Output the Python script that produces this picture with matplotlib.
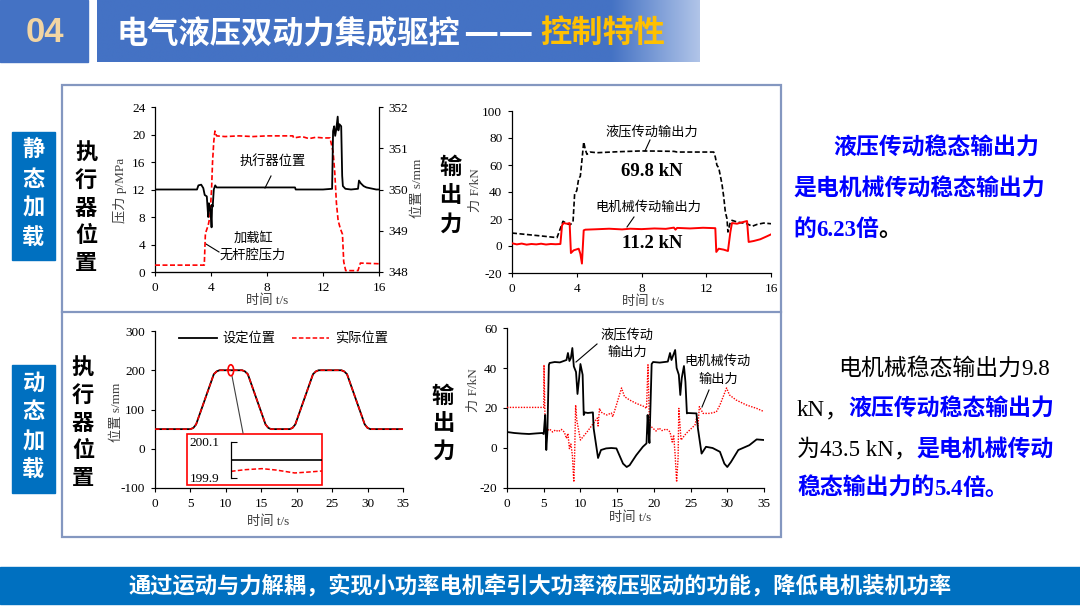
import matplotlib
matplotlib.use('Agg')
import matplotlib.pyplot as plt
import numpy as np
from matplotlib.patches import Rectangle, Ellipse

# ---------------- data ----------------
# static load, actuator position (right axis, mm) and cylinder pressure (left axis, MPa)
TL_T_POS = [0, 1.0, 2.0, 3.0, 3.1, 3.3, 3.45, 3.55, 3.7, 3.8, 3.85, 3.92, 4.0, 4.04, 4.08, 4.12,
            4.2, 4.3, 4.4, 5, 6, 7, 8, 9, 10.0, 10.05, 11, 12, 12.65, 12.72, 12.8, 12.87, 12.95,
            13.05, 13.1, 13.17, 13.3, 13.37, 13.42, 13.6, 14, 14.5, 14.57, 14.7, 14.9, 15.1, 15.8, 16]
TL_POS = [350.0, 350.0, 350.0, 350.0, 350.1, 350.117, 350.033, 349.867, 349.833, 349.333,
          349.667, 349.583, 349.333, 349.083, 349.633, 349.583, 350.0, 350.1, 350.05, 350.05,
          350.05, 350.05, 350.05, 350.05, 350.05, 350.0, 350.0, 350.0, 350.017, 351.417,
          351.533, 351.3, 351.467, 351.767, 351.433, 351.583, 351.533, 350.333, 350.083, 350.017,
          350.0, 350.017, 350.217, 350.15, 350.083, 350.05, 350.0, 350.0]
TL_T_P = [0, 3.52, 3.6, 3.7, 3.8, 3.92, 4.04, 4.11, 4.2, 4.28, 4.4, 5, 6, 7, 8, 9, 9.85, 9.9,
          10.5, 11, 11.5, 12, 12.5, 12.72, 12.84, 12.96, 13.08, 13.24, 13.39, 13.48, 13.62,
          14.5, 14.67, 16]
TL_P = [1.0, 1.0, 5.6, 6.2, 6.8, 8.0, 12.0, 16.0, 19.0, 20.5, 19.8, 19.7, 19.8, 19.7, 19.8,
        19.8, 19.8, 19.5, 19.7, 19.4, 19.6, 19.5, 19.5, 17.5, 14.5, 10.0, 7.5, 6.3, 5.5, 1.5,
        0.2, 0.2, 1.3, 1.2]

# static load, output forces (kN)
TR_T_H = [0, 1, 2, 2.78, 3.15, 3.4, 3.6, 3.77, 3.87, 4.0, 4.12, 4.22, 4.32, 4.43, 4.53, 4.63,
          4.84, 5.25, 6.5, 7.93, 9, 10.0, 10.2, 11.5, 12.46, 12.56, 12.66, 12.77, 12.97, 13.08,
          13.18, 13.28, 13.34, 13.49, 13.59, 13.9, 14.52, 14.83, 15.14, 15.55, 16]
TR_H = [9.6, 8.4, 7.2, 6.2, 18.3, 16.5, 15.8, 17.8, 38.8, 41.0, 50.0, 51.6, 63.5, 77.0, 71.4,
        67.9, 69.6, 69.1, 69.8, 70.4, 70.3, 70.1, 69.6, 69.6, 69.6, 65.9, 59.8, 58.0, 46.0,
        36.3, 25.2, 20.2, 10.4, 17.8, 19.0, 17.8, 16.5, 14.6, 16.0, 17.0, 16.5]
TR_T_M = [0, 0.3, 0.6, 0.9, 1.2, 1.5, 1.8, 2.1, 2.4, 2.7, 2.99, 3.09, 3.19, 3.4, 3.56, 3.64,
          3.81, 4.12, 4.22, 4.32, 4.43, 4.53, 5.2, 6.0, 6.8, 7.3, 8.0, 8.8, 9.5, 10.0, 10.1,
          10.2, 11.0, 11.8, 12.56, 12.62, 12.77, 13.08, 13.34, 13.49, 13.59, 13.9, 14.2, 14.52,
          14.62, 14.93, 15.34, 15.75, 16]
TR_M = [2.0, 1.2, 1.8, 1.0, 1.5, 1.2, 1.7, 1.1, 1.5, 1.3, 1.5, 15.3, 17.0, 16.5, 17.0, -5.2,
        -3.2, -2.0, -5.7, -13.0, 11.6, 12.1, 12.4, 12.8, 12.3, 12.8, 12.5, 13.0, 12.7, 13.6,
        12.1, 13.4, 13.0, 13.5, 13.2, -4.4, -2.0, -2.7, -3.7, 10.4, 17.0, 16.5, 17.5, 18.5,
        3.0, 3.7, 5.0, 7.2, 8.6]

# dynamic load, actuator position (mm)
BL_T = [0, 5.0, 5.4, 5.8, 8.3, 8.7, 9.1, 12.3, 12.7, 13.1, 15.6, 16.0, 16.4, 19.0, 19.4, 19.8,
        22.3, 22.7, 23.1, 26.3, 26.7, 27.1, 29.6, 30.0, 30.4, 35]
BL_SET = [50, 50, 53, 62, 190, 197, 200, 200, 197, 190, 62, 53, 50, 50, 53, 62, 190, 197, 200,
          200, 197, 190, 62, 53, 50, 50]
BL_ACT = [50, 50, 53, 62, 190, 197, 200, 200, 197, 190, 62, 53, 50, 50, 53, 62, 190, 197, 200,
          200, 197, 190, 62, 53, 50, 50]
INSET_X = [0, 0.15, 0.34, 0.5, 0.7, 0.85, 1.0]
INSET_ACT = [199.937, 199.946, 199.952, 199.944, 199.928, 199.933, 199.939]
INSET_SET_X = [0, 1.0]
INSET_SET = [200.0, 200.0]

# dynamic load, output forces (kN)
BR_T_H = [0, 1, 2, 3, 4, 4.8, 5.0, 5.1, 5.2, 5.35, 5.5, 5.7, 5.8, 6.5, 7.2, 8.1, 8.3, 8.5, 8.7,
          8.9, 9.1, 9.4, 9.6, 9.8, 10.0, 10.3, 10.45, 10.6, 11.0, 11.7, 11.8, 12.4, 12.8, 13.5,
          14.2, 14.9, 15.1, 15.8, 16.3, 16.7, 17.6, 18.5, 19.0, 19.15, 19.25, 19.4, 19.7, 19.9,
          20.8, 21.9, 22.2, 22.4, 22.9, 23.1, 23.4, 23.6, 23.8, 24.1, 24.3, 24.5, 24.6, 25.8,
          26.0, 26.5, 27.1, 28.0, 29.0, 29.6, 30.0, 30.5, 31.5, 33.0, 34.0, 35]
BR_H = [8.0, 7.5, 7.2, 7.0, 7.3, 7.5, 7.0, 12.0, 16.5, -1.0, 8.0, 41.5, 42.5, 43.0, 42.8, 44.0,
        47.5, 43.5, 45.0, 50.0, 40.8, 38.0, 27.0, 34.0, 42.0, 36.6, 16.5, 17.8, 17.5, 17.8, 9.8,
        -5.0, -1.0, -0.2, 0.0, -0.2, -1.9, -7.8, -9.5, -8.6, -3.6, 0.6, 2.3, 16.5, 10.0, 2.5,
        42.0, 43.0, 42.7, 43.2, 47.5, 44.0, 49.0, 40.0, 36.6, 26.5, 35.0, 41.0, 33.0, 17.3,
        17.5, 17.3, 9.8, -2.8, 0.6, 0.0, -1.9, -7.8, -9.5, -7.0, -1.0, 1.4, 4.3, 4.0]
BR_T_M = [0, 5.0, 5.04, 5.2, 5.4, 5.8, 6.2, 6.6, 7.0, 7.4, 7.8, 8.1, 8.3, 8.5, 8.7, 8.9, 9.1,
          9.2, 9.35, 9.5, 10.0, 11.0, 12.3, 12.4, 12.6, 12.8, 13.1, 13.6, 14.2, 14.4, 14.9, 15.6,
          16.0, 16.7, 17.6, 18.7, 19.0, 19.2, 19.4, 19.9, 20.3, 20.7, 21.1, 21.7, 22.2, 22.5,
          22.7, 22.9, 23.1, 23.3, 23.4, 23.7, 24.4, 25.6, 25.8, 26.0, 26.2, 26.7, 27.6, 28.5,
          29.0, 29.9, 30.3, 31.2, 32.6, 34.0, 35]
BR_M = [20.3, 20.3, 41.6, 9.8, 8.5, 9.5, 8.0, 9.0, 8.2, 9.3, 8.0, 4.8, 7.3, -0.3, 2.0, -3.6,
        -17.0, -5.0, 21.5, 14.0, 4.0, 8.5, 15.0, 11.0, 19.8, 18.0, 17.3, 16.5, 17.5, 15.6, 21.5,
        30.0, 25.7, 24.0, 22.3, 20.7, 19.8, 41.6, 11.5, 9.8, 8.5, 10.0, 8.7, 9.5, 8.1, 3.0, 6.5,
        -3.6, -17.0, -5.0, 19.8, 4.0, 7.3, 11.5, 14.8, 11.0, 20.7, 17.3, 17.3, 18.0, 21.5, 30.0,
        26.5, 24.0, 21.5, 19.8, 18.2]

TL_XTICKS = [0, 4, 8, 12, 16]
TL_YTICKS = [0, 4, 8, 12, 16, 20, 24]
TL_Y2TICKS = [348, 349, 350, 351, 352]
TR_YTICKS = [-20, 0, 20, 40, 60, 80, 100]
B_XTICKS = [0, 5, 10, 15, 20, 25, 30, 35]
BL_YTICKS = [-100, 0, 100, 200, 300]
BR_YTICKS = [-20, 0, 20, 40, 60]
INSET_YTICKS = [199.9, 200.1]

# ---------------- setup ----------------
CJK = ['Noto Sans CJK SC', 'DejaVu Sans']
SERIF = ['Liberation Serif', 'Noto Sans CJK SC', 'DejaVu Sans']
plt.rcParams['font.family'] = SERIF
plt.rcParams['axes.unicode_minus'] = False

W, H = 1080, 608
fig = plt.figure(figsize=(W / 100, H / 100), dpi=100)
fig.patch.set_facecolor('white')
bg = fig.add_axes([0, 0, 1, 1], zorder=0)
bg.set_xlim(0, W)
bg.set_ylim(H, 0)
bg.axis('off')

BLUE_HDR = '#4472C4'
BLUE_BOX = '#0070C0'
FRAME = '#8497C0'
TXT_BLUE = '#0000FF'

# header
bg.add_patch(Rectangle((0, 0), 88, 62, color=BLUE_HDR, zorder=1))
bg.text(45, 32, '04', color='#F2D5A3', fontsize=25, fontweight='bold',
        family=['Liberation Sans'], ha='center', va='center', zorder=3)
n = 300
xs = np.linspace(97, 700, n)
base = np.array([0x44, 0x72, 0xC4]) / 255
light = np.array([0xB0, 0xC4, 0xE8]) / 255
frac = np.clip((xs - 612) / (700 - 612), 0, 1)
grad = (base[None, :] * (1 - frac[:, None]) + light[None, :] * frac[:, None])[None, :, :]
bg.imshow(grad, extent=[97, 700, 62, 0], aspect='auto', zorder=1, interpolation='bilinear')
bg.set_xlim(0, W)
bg.set_ylim(H, 0)
bg.text(116, 33, '电气液压双动力集成驱控', color='white', fontsize=22.5, fontweight='bold',
        family=CJK, ha='left', va='center', zorder=3)
bg.text(463, 33, '——', color='white', fontsize=28, fontweight='bold',
        family=CJK, ha='left', va='center', zorder=3)
bg.text(540, 33, '控制特性', color='#FFC000', fontsize=22.5, fontweight='bold',
        family=CJK, ha='left', va='center', zorder=3)

# frame
bg.add_patch(Rectangle((62, 85), 781 - 62, 537 - 85, fill=False, edgecolor=FRAME, lw=1.6, zorder=1))
bg.plot([62, 781], [312, 312], color=FRAME, lw=1.6, zorder=1)

# left blue labels
bg.add_patch(Rectangle((12, 132), 43, 128, color=BLUE_BOX, zorder=1))
bg.add_patch(Rectangle((12, 365), 43, 128, color=BLUE_BOX, zorder=1))
for ch, y in zip('静态加载', [150, 179, 208, 238]):
    bg.text(33.5, y, ch, color='white', fontsize=16, fontweight='bold', family=CJK,
            ha='center', va='center', zorder=3)
for ch, y in zip('动态加载', [383, 412, 442, 470]):
    bg.text(33.5, y, ch, color='white', fontsize=16, fontweight='bold', family=CJK,
            ha='center', va='center', zorder=3)

for i, ch in enumerate('执行器位置'):
    bg.text(86, 153 + 27.6 * i, ch, color='black', fontsize=16, fontweight='bold', family=CJK,
            ha='center', va='center', zorder=3)
    bg.text(83, 368 + 27.5 * i, ch, color='black', fontsize=16, fontweight='bold', family=CJK,
            ha='center', va='center', zorder=3)
for ch, y in zip('输出力', [167, 196, 224]):
    bg.text(450, y, ch, color='black', fontsize=16, fontweight='bold', family=CJK,
            ha='center', va='center', zorder=3)
for ch, y in zip('输出力', [396, 423, 451]):
    bg.text(443, y, ch, color='black', fontsize=16, fontweight='bold', family=CJK,
            ha='center', va='center', zorder=3)

# bottom bar
bg.add_patch(Rectangle((0, 567), W, 37, color=BLUE_BOX, zorder=1))
bg.text(540, 586, '通过运动与力解耦，实现小功率电机牵引大功率液压驱动的功能，降低电机装机功率',
        color='white', fontsize=16, fontweight='bold', family=CJK, ha='center', va='center',
        zorder=3)

TICK_FS = 9.5


def add_ax(x0, y0, x1, y1, z=2):
    ax = fig.add_axes([x0 / W, 1 - y1 / H, (x1 - x0) / W, (y1 - y0) / H], zorder=z)
    ax.set_facecolor('none')
    return ax


def style(ax, xt, yt, xl, yl):
    ax.set_xlim(*xl)
    ax.set_ylim(*yl)
    ax.set_xticks(xt)
    ax.set_yticks(yt)
    ax.spines['top'].set_visible(False)
    ax.spines['right'].set_visible(False)
    for s in ('left', 'bottom'):
        ax.spines[s].set_linewidth(0.9)
        ax.spines[s].set_color('black')
    ax.tick_params(direction='out', length=3, width=0.8, pad=4, labelsize=TICK_FS,
                   colors='black')


LAB = dict(fontsize=9.5, color='#404040', ha='center', va='center', zorder=3)
ANN = dict(fontsize=9.5, color='black', ha='center', va='center', zorder=3)

# ---------- top-left ----------
ax1 = add_ax(155, 107, 379, 272)
style(ax1, TL_XTICKS, TL_YTICKS, (0, 16), (0, 24))
ax1.plot(TL_T_P, TL_P, color='#FF0000', lw=1.2, ls=(0, (3, 1.5)), zorder=3)
ax1r = ax1.twinx()
ax1r.set_facecolor('none')
ax1r.set_ylim(348, 352)
ax1r.set_yticks(TL_Y2TICKS)
ax1r.spines['top'].set_visible(False)
ax1r.spines['left'].set_visible(False)
ax1r.spines['right'].set_linewidth(0.9)
ax1r.tick_params(direction='out', length=3, width=0.8, pad=4, labelsize=TICK_FS, colors='black')
ax1r.plot(TL_T_POS, TL_POS, color='black', lw=1.3, zorder=4)
bg.text(120, 190, '压力 p/MPa', rotation=90, **LAB)
bg.text(418, 188, '位置 s/mm', rotation=90, **LAB)
bg.text(267, 301, '时间 t/s', **LAB)
bg.text(273, 161, '执行器位置', **ANN)
bg.plot([271, 265], [176, 188], color='black', lw=0.8, zorder=3)
bg.text(253, 238, '加载缸', **ANN)
bg.text(253, 256, '无杆腔压力', **ANN)
bg.plot([219, 206], [252, 244], color='black', lw=0.8, zorder=3)

# ---------- top-right ----------
ax2 = add_ax(512, 111, 771, 273)
style(ax2, TL_XTICKS, TR_YTICKS, (0, 16), (-20, 100))
ax2.plot(TR_T_H, TR_H, color='black', lw=1.2, ls=(0, (3, 1.5)), zorder=3)
ax2.plot(TR_T_M, TR_M, color='#FF0000', lw=1.4, zorder=3)
bg.text(476, 190, '力 F/kN', rotation=90, **LAB)
bg.text(643, 302, '时间 t/s', **LAB)
bg.text(652, 132, '液压传动输出力', **ANN)
bg.plot([650, 645], [140, 151], color='black', lw=0.8, zorder=3)
bg.text(652, 172, '69.8 kN', fontsize=13.5, fontweight='bold', color='black',
        ha='center', va='center', zorder=3)
bg.text(648, 208, '电机械传动输出力', **ANN)
bg.plot([634, 627], [217, 227], color='black', lw=0.8, zorder=3)
bg.text(652, 243, '11.2 kN', fontsize=13.5, fontweight='bold', color='black',
        ha='center', va='center', zorder=3)

# ---------- bottom-left ----------
ax3 = add_ax(155, 331, 403, 488)
style(ax3, B_XTICKS, BL_YTICKS, (0, 35), (-100, 300))
ax3.plot(BL_T, BL_SET, color='black', lw=1.3, zorder=3)
ax3.plot(BL_T, BL_ACT, color='#FF0000', lw=1.1, ls=(0, (3, 1.5)), zorder=4)
ax3.add_patch(Ellipse((10.7, 200), 0.8, 28, fill=False, edgecolor='#FF0000', lw=1.2, zorder=5))
bg.text(117, 412, '位置 s/mm', rotation=90, **LAB)
bg.text(268, 522, '时间 t/s', **LAB)
bg.plot([179, 217], [338, 338], color='black', lw=1.3, zorder=3)
bg.text(222, 338, '设定位置', fontsize=9.5, color='black', ha='left', va='center', zorder=3)
bg.plot([292, 329], [338, 338], color='#FF0000', lw=1.1, ls=(0, (3, 1.5)), zorder=3)
bg.text(335, 338, '实际位置', fontsize=9.5, color='black', ha='left', va='center', zorder=3)
bg.plot([232, 243], [376, 433], color='#404040', lw=0.8, zorder=3)
bg.add_patch(Rectangle((187, 434), 135, 51, facecolor='white', edgecolor='#FF0000', lw=1.2,
                       zorder=2))
axi = add_ax(231, 442, 322, 478, z=5)
axi.set_xlim(0, 1)
axi.set_ylim(199.9, 200.1)
axi.set_xticks([])
axi.set_yticks(INSET_YTICKS)
axi.set_yticklabels(['199.9', '200.1'])
for s in ('top', 'right', 'bottom'):
    axi.spines[s].set_visible(False)
axi.spines['left'].set_linewidth(0.9)
axi.tick_params(axis='y', direction='in', length=4, width=0.8, pad=8, labelsize=TICK_FS)
axi.plot(INSET_SET_X, INSET_SET, color='black', lw=1.2)
axi.plot(INSET_X, INSET_ACT, color='#FF0000', lw=1.1, ls=(0, (3, 1.5)))

# ---------- bottom-right ----------
ax4 = add_ax(507, 328, 764, 488)
style(ax4, B_XTICKS, BR_YTICKS, (0, 35), (-20, 60))
ax4.plot(BR_T_M, BR_M, color='#FF0000', lw=1.0, ls=(0, (1, 1)), zorder=3)
ax4.plot(BR_T_H, BR_H, color='black', lw=1.3, zorder=4)
bg.text(474, 390, '力 F/kN', rotation=90, **LAB)
bg.text(630, 518, '时间 t/s', **LAB)
bg.text(627, 335, '液压传动', **ANN)
bg.text(627, 353, '输出力', **ANN)
bg.plot([597, 576], [344, 362], color='black', lw=0.8, zorder=3)
bg.text(718, 362, '电机械传动', **ANN)
bg.text(718, 380, '输出力', **ANN)
bg.plot([709, 702], [390, 407], color='black', lw=0.8, zorder=3)

# ---------- right text ----------
renderer = fig.canvas.get_renderer()


def seq(x, y, pieces, size=16.5):
    for s, color, weight, fam in pieces:
        t = bg.text(x, y, s, color=color, fontweight=weight, family=fam, fontsize=size,
                    ha='left', va='baseline', zorder=3)
        bb = t.get_window_extent(renderer=renderer)
        x = bb.x1


seq(833, 155, [('液压传动稳态输出力', TXT_BLUE, 'bold', CJK)])
seq(793, 196, [('是电机械传动稳态输出力', TXT_BLUE, 'bold', CJK)])
seq(793, 236, [('的', TXT_BLUE, 'bold', CJK), ('6.23', TXT_BLUE, 'bold', SERIF),
               ('倍', TXT_BLUE, 'bold', CJK), ('。', 'black', 'bold', CJK)])

seq(838, 375, [('电机械稳态输出力', 'black', 'normal', CJK), ('9.8', 'black', 'normal', SERIF)])
seq(797, 416, [('kN', 'black', 'normal', SERIF), ('，', 'black', 'normal', CJK),
               ('液压传动稳态输出力', TXT_BLUE, 'bold', CJK)])
seq(797, 456, [('为', 'black', 'normal', CJK), ('43.5 kN', 'black', 'normal', SERIF),
               ('，', 'black', 'normal', CJK), ('是电机械传动', TXT_BLUE, 'bold', CJK)])
seq(797, 495, [('稳态输出力的', TXT_BLUE, 'bold', CJK), ('5.4', TXT_BLUE, 'bold', SERIF),
               ('倍。', TXT_BLUE, 'bold', CJK)])

fig.savefig('out.png', dpi=100)
